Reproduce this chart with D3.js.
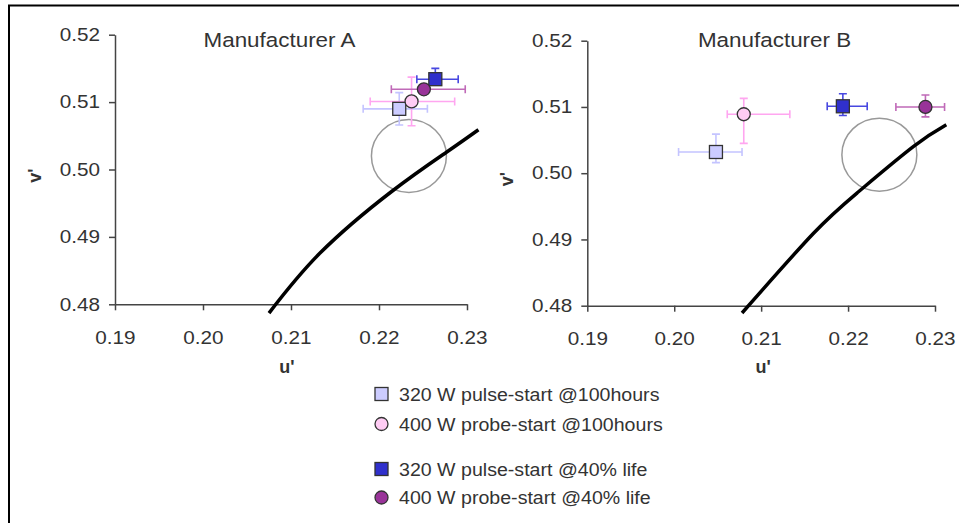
<!DOCTYPE html>
<html>
<head>
<meta charset="utf-8">
<script src="https://cdn.jsdelivr.net/npm/d3@7"></script>
<style>
  body { margin: 0; background: #fff; }
  text { font-family: "Liberation Sans", Arial, sans-serif; fill: #333; }
</style>
</head>
<body>
<svg id="chart" width="959" height="523"></svg>
<script>
// series, legend order
var seriesNames = ["320 W pulse-start @100hours", "400 W probe-start @100hours",
                   "320 W pulse-start @40% life", "400 W probe-start @40% life"];
var seriesShapes = ["square", "circle", "square", "circle"];
var seriesFill = ["#ccccff", "#ffccf4", "#3030cc", "#993399"];
var seriesErrColor = ["#c4c4ff", "#ffa6f0", "#4848e0", "#c06ab8"];

var uTicks = [0.19, 0.20, 0.21, 0.22, 0.23];
var vTicks = [0.48, 0.49, 0.50, 0.51, 0.52];

// Manufacturer A
var uA = [0.2223, 0.2237, 0.2264, 0.2251];
var vA = [0.5090, 0.5101, 0.5134, 0.5119];
var uLoA = [0.2182, 0.2190, 0.2243, 0.2214];
var uHiA = [0.2255, 0.2286, 0.2290, 0.2298];
var vLoA = [0.5066, 0.5065, 0.5127, 0.5113];
var vHiA = [0.5114, 0.5137, 0.5150, 0.5125];
var locusAU = [0.2075, 0.2133, 0.2214, 0.2277, 0.2313];
var locusAV = [0.4787, 0.4876, 0.4967, 0.5026, 0.5059];

// Manufacturer B
var uB = [0.2048, 0.2080, 0.2194, 0.2289];
var vB = [0.5032, 0.5089, 0.5101, 0.5100];
var uLoB = [0.2005, 0.2061, 0.2176, 0.2255];
var uHiB = [0.2078, 0.2133, 0.2222, 0.2311];
var vLoB = [0.5016, 0.5045, 0.5087, 0.5085];
var vHiB = [0.5059, 0.5113, 0.5120, 0.5118];
var locusBU = [0.2078, 0.2160, 0.2212, 0.2275, 0.2313];
var locusBV = [0.4789, 0.4909, 0.4972, 0.5040, 0.5073];

// target circle centre, one per panel
var targetU = [0.2234, 0.2236];
var targetV = [0.5020, 0.5028];

var svg = d3.select("#chart");
var sx = 1.15; // the reference text is a little wide

// outer frame (right and bottom edges are cut off in the reference)
svg.append("path")
    .attr("d", "M9,523V5.5H959")
    .attr("fill", "none")
    .attr("stroke", "#000")
    .attr("stroke-width", 2);

function wideText(sel, x, y, size, k) {
  return sel.attr("transform", "translate(" + x + "," + y + ") scale(" + (k || sx) + ",1)")
      .style("font-size", size + "px");
}

function drawPanel(p) {
  var x = d3.scaleLinear().domain([0.19, 0.23]).range([p.left, p.right]);
  var y = d3.scaleLinear().domain([0.48, 0.52]).range([p.bottom, p.top]);
  var g = svg.append("g");

  var xAxis = g.append("g")
      .attr("transform", "translate(0," + p.bottom + ")")
      .call(d3.axisBottom(x).tickValues(uTicks).tickFormat(d3.format(".2f"))
        .tickSize(6).tickSizeOuter(0).tickPadding(21));
  var yAxis = g.append("g")
      .attr("transform", "translate(" + p.left + ",0)")
      .call(d3.axisLeft(y).tickValues(vTicks).tickFormat(d3.format(".2f"))
        .tickSize(6).tickSizeOuter(0).tickPadding(9));

  [xAxis, yAxis].forEach(function (a) {
    a.select(".domain").attr("stroke", "#444").attr("stroke-width", 1.5);
    a.selectAll(".tick line").attr("stroke", "#444").attr("stroke-width", 1.5);
    a.selectAll(".tick text")
        .attr("fill", "#333")
        .style("font-size", "18px")
        .style("font-family", "Liberation Sans, Arial, sans-serif");
  });
  yAxis.selectAll(".tick text")
      .attr("x", -15 / sx)
      .attr("transform", "scale(" + sx + ",1)");
  xAxis.selectAll(".tick text")
      .attr("transform", "scale(" + sx + ",1)");

  // titles
  wideText(g.append("text"), (p.left + p.right) / 2 + p.titleDx, 46.5, 19.5)
      .attr("text-anchor", "middle")
      .text(p.title);
  g.append("text")
      .attr("x", (p.left + p.right) / 2 + p.uDx)
      .attr("y", 373)
      .attr("text-anchor", "middle")
      .style("font-size", "18px")
      .style("font-weight", "bold")
      .text("u'");
  g.append("text")
      .attr("transform", "translate(" + (p.left - 74) + "," + ((p.top + p.bottom) / 2 + 6) + ") rotate(-90)")
      .attr("text-anchor", "middle")
      .style("font-size", "18px")
      .style("font-weight", "bold")
      .text("v'");

  // target circle
  g.append("ellipse")
      .attr("cx", x(p.cu))
      .attr("cy", y(p.cv))
      .attr("rx", 37.5)
      .attr("ry", 36.5)
      .attr("fill", "none")
      .attr("stroke", "#999")
      .attr("stroke-width", 1.5);

  // locus
  var line = d3.line().curve(d3.curveNatural)
      .x(function (d) { return x(d[0]); })
      .y(function (d) { return y(d[1]); });
  g.append("path")
      .datum(d3.zip(p.lu, p.lv))
      .attr("d", line)
      .attr("fill", "none")
      .attr("stroke", "#000")
      .attr("stroke-width", 3.5);

  // error bars and markers
  var cap = 4;
  seriesNames.forEach(function (name, i) {
    var eb = g.append("g")
        .attr("stroke", seriesErrColor[i])
        .attr("stroke-width", 1.6)
        .attr("fill", "none");
    var cx = x(p.u[i]), cy = y(p.v[i]);
    var xl = x(p.ulo[i]), xh = x(p.uhi[i]);
    var yl = y(p.vlo[i]), yh = y(p.vhi[i]);
    eb.append("path").attr("d",
        "M" + xl + "," + cy + "H" + xh +
        "M" + xl + "," + (cy - cap) + "V" + (cy + cap) +
        "M" + xh + "," + (cy - cap) + "V" + (cy + cap));
    eb.append("path").attr("d",
        "M" + cx + "," + yl + "V" + yh +
        "M" + (cx - cap) + "," + yl + "H" + (cx + cap) +
        "M" + (cx - cap) + "," + yh + "H" + (cx + cap));
  });
  seriesNames.forEach(function (name, i) {
    drawMarker(g, seriesShapes[i], x(p.u[i]), y(p.v[i]), seriesFill[i]);
  });
}

function drawMarker(g, shape, cx, cy, fill) {
  if (shape === "square") {
    g.append("rect")
        .attr("x", cx - 6.5).attr("y", cy - 6.5)
        .attr("width", 13).attr("height", 13)
        .attr("fill", fill).attr("stroke", "#333").attr("stroke-width", 1.3);
  } else {
    g.append("circle")
        .attr("cx", cx).attr("cy", cy).attr("r", 6.5)
        .attr("fill", fill).attr("stroke", "#333").attr("stroke-width", 1.3);
  }
}

drawPanel({
  title: "Manufacturer A", titleDx: -11.5, uDx: -4,
  left: 115, right: 467, top: 34.7, bottom: 304.3,
  u: uA, v: vA, ulo: uLoA, uhi: uHiA, vlo: vLoA, vhi: vHiA,
  lu: locusAU, lv: locusAV, cu: targetU[0], cv: targetV[0]
});
drawPanel({
  title: "Manufacturer B", titleDx: 13.4, uDx: 2,
  left: 587.3, right: 935, top: 40.7, bottom: 305.7,
  u: uB, v: vB, ulo: uLoB, uhi: uHiB, vlo: vLoB, vhi: vHiB,
  lu: locusBU, lv: locusBV, cu: targetU[1], cv: targetV[1]
});

// legend
var legendY = [394, 424, 469, 497.5];
var legend = svg.append("g");
seriesNames.forEach(function (name, i) {
  drawMarker(legend, seriesShapes[i], 381.5, legendY[i], seriesFill[i]);
  wideText(legend.append("text"), 399, legendY[i] + 6.5, 17.5, 1.12).text(name);
});
</script>
</body>
</html>
